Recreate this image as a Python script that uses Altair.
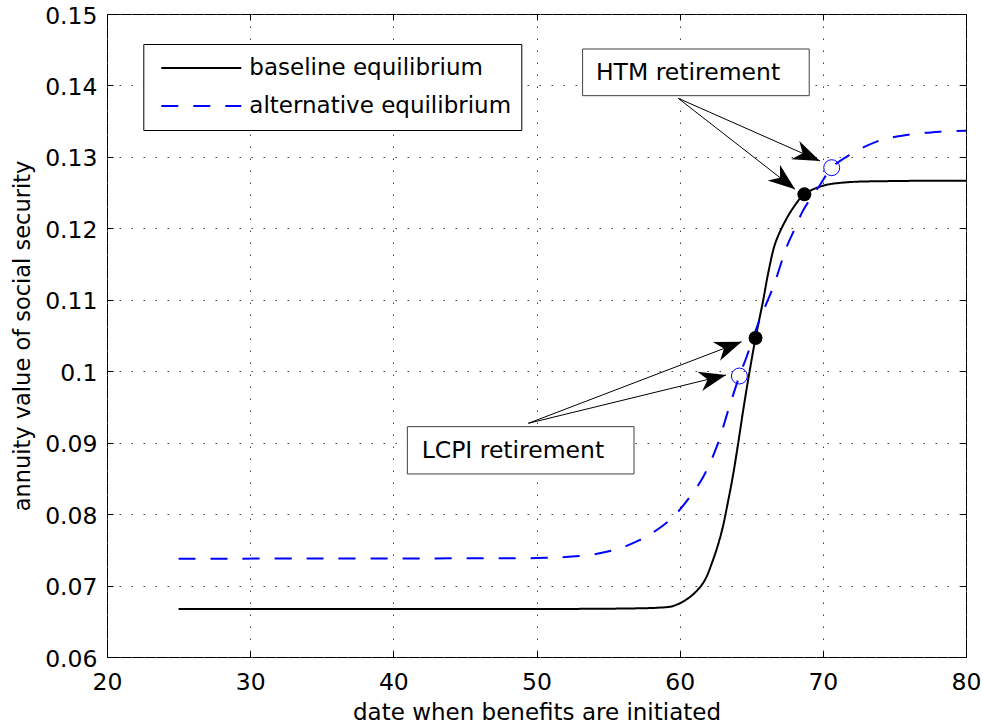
import math
import altair as alt
import pandas as pd

# ---------------- data ----------------
series_names = ["baseline equilibrium", "alternative equilibrium"]

base_x = [25, 35, 45, 52, 55, 57.23, 58.50, 59.56, 60.72, 61.65, 62.35, 62.94, 63.40, 63.75,
          64.10, 64.44, 64.84, 65.30, 65.84, 66.19, 66.66, 67.24, 67.94, 68.71, 70.03,
          71.67, 75.00, 80.00]
base_y = [0.06672, 0.06672, 0.06672, 0.06673, 0.06676, 0.06682, 0.06690, 0.06715, 0.06840,
          0.07040, 0.07370, 0.07760, 0.08198, 0.08571, 0.09009, 0.09457, 0.09947, 0.10465,
          0.11000, 0.11380, 0.11780, 0.12050, 0.12290, 0.12476, 0.12597, 0.12644, 0.12662,
          0.12667]

alt_x = [25, 35, 45, 50, 53.51, 55.60, 57.23, 58.40, 59.56, 60.72, 61.65, 62.59, 63.40,
         64.17, 64.68, 65.49, 66.54, 67.48, 68.06, 68.64, 69.80, 70.62, 71.67, 73.76,
         75.86, 78.18, 80.00]
alt_y = [0.07376, 0.07378, 0.07381, 0.07386, 0.07424, 0.07508, 0.07638, 0.07778, 0.07964,
         0.08244, 0.08524, 0.08944, 0.09457, 0.09933, 0.10203, 0.10671, 0.11183, 0.11743,
         0.12000, 0.12257, 0.12607, 0.12849, 0.13003, 0.13213, 0.13307, 0.13353, 0.13367]

base_mark_x = [65.30, 68.71]
base_mark_y = [0.10465, 0.12476]
alt_mark_x = [64.17, 70.62]
alt_mark_y = [0.09933, 0.12849]

note_text = ["HTM retirement", "LCPI retirement"]
note_text_x = [54.15, 41.98]
note_text_y = [0.14076, 0.08781]
note_box_x1 = [53.22, 40.98]
note_box_x2 = [69.05, 56.81]
note_box_y1 = [0.13857, 0.08562]
note_box_y2 = [0.14510, 0.09224]

arrow_from_x = [59.90, 59.90, 49.43, 49.43]
arrow_from_y = [0.13820, 0.13820, 0.09271, 0.09271]
arrow_to_x = [69.80, 68.06, 64.33, 63.24]
arrow_to_y = [0.12943, 0.12546, 0.10413, 0.09947]

x_ticks = [20, 30, 40, 50, 60, 70, 80]
y_ticks = [0.06, 0.07, 0.08, 0.09, 0.10, 0.11, 0.12, 0.13, 0.14, 0.15]

# ---------------- layout ----------------
W, H = 859, 643
X_DOMAIN = [20, 80]
Y_DOMAIN = [0.06, 0.15]
FONT = "DejaVu Sans"

xs = alt.Scale(domain=X_DOMAIN, nice=False, zero=False)
ys = alt.Scale(domain=Y_DOMAIN, nice=False, zero=False)

lines_df = pd.DataFrame({
    "x": base_x + alt_x,
    "y": base_y + alt_y,
    "series": [series_names[0]] * len(base_x) + [series_names[1]] * len(alt_x),
    "order": list(range(len(base_x))) + list(range(len(alt_x))),
})
base_marks = pd.DataFrame({"x": base_mark_x, "y": base_mark_y})
alt_marks = pd.DataFrame({"x": alt_mark_x, "y": alt_mark_y})
notes = pd.DataFrame({
    "text": note_text, "tx": note_text_x, "ty": note_text_y,
    "bx1": note_box_x1, "bx2": note_box_x2, "by1": note_box_y1, "by2": note_box_y2,
})

# arrow head angles (screen space, clockwise degrees)
px_per_x = W / (X_DOMAIN[1] - X_DOMAIN[0])
px_per_y = H / (Y_DOMAIN[1] - Y_DOMAIN[0])
angles = []
for fx, fy, tx, ty in zip(arrow_from_x, arrow_from_y, arrow_to_x, arrow_to_y):
    dx = (tx - fx) * px_per_x
    dy = -(ty - fy) * px_per_y
    angles.append(math.degrees(math.atan2(dy, dx)) % 360)
arrows = pd.DataFrame({"x1": arrow_from_x, "y1": arrow_from_y,
                       "x2": arrow_to_x, "y2": arrow_to_y, "ang": angles})

grid_style = dict(grid=True, gridDash=[1.5, 10.5], gridColor="#404040", gridWidth=1,
                  ticks=False, tickSize=0, domain=False, labelFont=FONT,
                  labelFontSize=23.5, labelColor="black", titleFont=FONT,
                  titleColor="black", titleFontWeight="normal", labelOverlap=False,
                  labelFlush=False)

x_main_axis = alt.Axis(values=x_ticks, format="d", labelBaseline="alphabetic",
                       labelPadding=32, labelAlign="center",
                       title="date when benefits are initiated", titleFontSize=23,
                       titleBaseline="alphabetic", titleY=62, **grid_style)
y_main_axis = alt.Axis(values=y_ticks, format=".2~f", labelAlign="right",
                       labelBaseline="alphabetic", labelOffset=9, labelPadding=10,
                       title="annuity value of social security", titleFontSize=22.5,
                       titleAngle=270, titleX=-77.5, titleY=321.5, titleAlign="center",
                       titleBaseline="alphabetic", **grid_style)

legend_style = dict(title=None, orient="none", legendX=36.3, legendY=30,
                    symbolType="stroke", symbolSize=6400, symbolStrokeWidth=2,
                    clipHeight=28, rowPadding=10, padding=10, strokeColor="black",
                    fillColor="white", labelFont=FONT, labelFontSize=23,
                    labelColor="black", symbolOffset=7, labelOffset=7, labelLimit=400,
                    cornerRadius=0)

lines = alt.Chart(lines_df).mark_line(strokeWidth=2, interpolate="catmull-rom").encode(
    x=alt.X("x:Q", scale=xs, axis=x_main_axis),
    y=alt.Y("y:Q", scale=ys, axis=y_main_axis),
    color=alt.Color("series:N",
                    scale=alt.Scale(domain=series_names, range=["#000000", "#0000ff"]),
                    legend=alt.Legend(**legend_style)),
    strokeDash=alt.StrokeDash("series:N",
                              scale=alt.Scale(domain=series_names, range=[[1, 0], [17, 15]]),
                              legend=alt.Legend(**legend_style)),
    order="order:Q",
)

def xq(field):
    return alt.X(field, type="quantitative", scale=xs, axis=None)

def yq(field):
    return alt.Y(field, type="quantitative", scale=ys, axis=None)

base_pts = alt.Chart(base_marks).mark_point(shape="circle", filled=True, color="black",
                                             size=195, opacity=1).encode(x=xq("x"), y=yq("y"))
alt_pts = alt.Chart(alt_marks).mark_point(shape="circle", filled=False, color="#0000ff",
                                           size=254, strokeWidth=1, opacity=1).encode(
    x=xq("x"), y=yq("y"))

arrow_lines = alt.Chart(arrows).mark_rule(color="black", strokeWidth=1).encode(
    x=xq("x1"), y=yq("y1"), x2="x2:Q", y2="y2:Q")
arrow_heads = alt.Chart(arrows).mark_point(
    shape="M0,0 L-1,-0.37 L-0.7,0 L-1,0.37 Z", filled=True, color="black",
    size=2916, opacity=1, strokeWidth=0).encode(
    x=xq("x2"), y=yq("y2"), angle=alt.Angle("ang:Q", scale=None))

boxes = alt.Chart(notes).mark_rect(fill="white", stroke="#404040", strokeWidth=1).encode(
    x=xq("bx1"), x2="bx2:Q", y=yq("by1"), y2="by2:Q")
texts = alt.Chart(notes).mark_text(align="left", baseline="alphabetic", font=FONT,
                                   fontSize=23.5, color="black").encode(
    x=xq("tx"), y=yq("ty"), text="text:N")

tick_style = dict(tickSize=6, ticks=True, tickColor="black", tickWidth=1, labels=False,
                  domain=False, grid=False, title=None, offset=-6)
ticks_a = alt.Chart(base_marks).mark_point(opacity=0).encode(
    x=alt.X("x:Q", scale=xs, axis=alt.Axis(orient="bottom", values=x_ticks, **tick_style)),
    y=alt.Y("y:Q", scale=ys, axis=alt.Axis(orient="left", values=y_ticks, **tick_style)))
ticks_b = alt.Chart(base_marks).mark_point(opacity=0).encode(
    x=alt.X("x:Q", scale=xs, axis=alt.Axis(orient="top", values=x_ticks, **tick_style)),
    y=alt.Y("y:Q", scale=ys, axis=alt.Axis(orient="right", values=y_ticks, **tick_style)))

chart = alt.layer(lines, base_pts, alt_pts, arrow_lines, arrow_heads, boxes, texts,
                  ticks_a, ticks_b).resolve_axis(x="independent", y="independent").properties(
    width=W, height=H,
    padding={"left": 107, "top": 14, "right": 17, "bottom": 70},
    autosize=alt.AutoSizeParams(type="none"),
    background="white",
).configure_view(stroke="black", strokeWidth=1)

chart.save("out.html", embed_options={"renderer": "svg", "actions": False})
